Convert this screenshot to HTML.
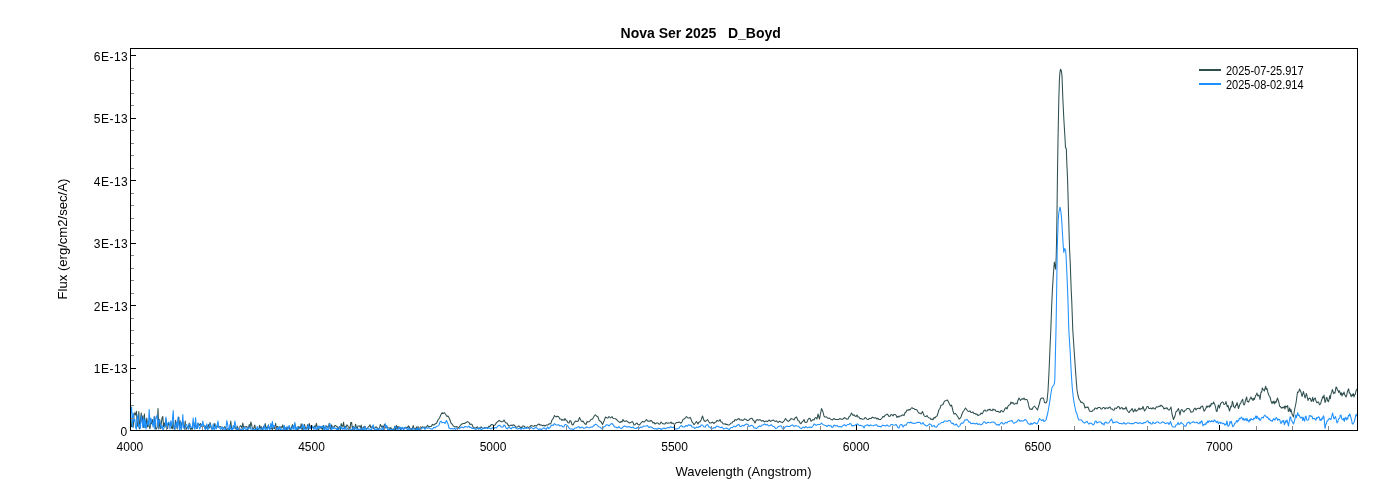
<!DOCTYPE html>
<html lang="en"><head><meta charset="utf-8"><title>Nova Ser 2025 D_Boyd</title>
<style>html,body{margin:0;padding:0;background:#fff;}body{width:1400px;height:500px;overflow:hidden;}svg{display:block;}</style>
</head><body>
<svg width="1400" height="500" viewBox="0 0 1400 500">
<rect x="0" y="0" width="1400" height="500" fill="#ffffff"/>
<defs><clipPath id="pc"><rect x="131" y="49" width="1226" height="381"/></clipPath></defs>
<g clip-path="url(#pc)" fill="none" stroke-linejoin="round" stroke-linecap="round">
<polyline stroke="#2f4f4f" stroke-width="1.05" points="130.0,414.3 130.8,418.0 131.6,426.8 132.4,426.4 133.2,427.1 134.0,414.9 134.8,412.9 135.6,415.0 136.4,411.2 137.2,424.7 138.0,426.5 138.8,411.5 139.6,429.0 140.4,421.6 141.2,412.9 142.0,421.8 142.8,415.8 143.6,427.5 144.4,413.9 145.2,427.2 146.0,425.5 146.8,418.0 147.6,426.9 148.4,420.5 149.2,426.9 150.0,428.8 150.8,421.3 151.6,423.8 152.4,419.5 153.2,423.8 154.0,422.9 154.8,416.5 155.6,428.9 156.4,429.0 157.2,426.9 158.0,408.5 158.8,428.9 159.6,419.2 160.4,428.7 161.2,424.1 162.0,418.1 162.8,416.5 163.6,426.8 164.4,422.9 165.2,427.0 166.0,418.8 166.8,427.6 167.6,428.7 168.4,422.6 169.2,424.7 170.0,424.5 170.8,424.5 171.6,427.9 172.4,428.8 173.2,421.0 174.0,428.7 174.8,429.5 175.6,420.3 176.4,423.9 177.2,428.9 178.0,420.6 178.8,417.0 179.6,428.2 180.4,420.9 181.2,429.1 182.0,422.5 182.8,421.1 183.6,425.7 184.4,429.2 185.2,421.0 186.0,429.5 186.8,428.3 187.6,426.8 188.4,427.8 189.2,423.0 190.0,428.1 190.8,429.6 191.6,428.0 192.4,429.2 193.2,422.1 194.0,422.8 194.8,428.2 195.6,424.7 196.4,426.8 197.2,428.5 198.0,423.3 198.8,425.7 199.6,424.6 200.4,423.5 201.2,425.9 202.0,426.6 202.8,426.6 203.6,424.7 204.4,426.7 205.2,428.6 206.0,425.7 206.8,428.6 207.6,426.7 208.4,424.6 209.2,428.3 210.0,422.5 210.8,425.4 211.6,429.1 212.4,428.7 213.2,428.6 214.0,427.3 214.8,423.4 215.6,426.8 216.4,428.1 217.2,426.0 218.0,426.9 218.8,427.1 219.6,426.8 220.4,426.5 221.2,427.4 222.0,428.4 222.8,429.4 223.6,428.5 224.4,426.8 225.2,426.8 226.0,429.2 226.8,429.8 227.6,428.7 228.4,428.7 229.2,429.5 230.0,428.9 230.8,421.0 231.6,429.2 232.4,428.8 233.2,428.7 234.0,426.4 234.8,426.3 235.6,428.6 236.4,429.5 237.2,426.1 238.0,429.8 238.8,429.1 239.6,426.8 240.4,425.8 241.2,426.3 242.0,428.4 242.8,423.0 243.6,427.3 244.4,427.2 245.2,426.8 246.0,426.9 246.8,426.5 247.6,429.7 248.4,428.6 249.2,424.5 250.0,428.1 250.8,422.0 251.6,424.7 252.4,428.4 253.2,429.6 254.0,427.5 254.8,425.0 255.6,429.6 256.4,429.2 257.2,429.7 258.0,429.4 258.8,429.1 259.6,425.2 260.4,429.1 261.2,426.6 262.0,429.7 262.8,429.0 263.6,426.3 264.4,427.5 265.2,423.5 266.0,428.6 266.8,427.1 267.6,428.2 268.4,424.8 269.2,428.0 270.0,428.6 270.8,428.3 271.6,428.2 272.4,430.0 273.2,425.7 274.0,428.3 274.8,428.7 275.6,423.4 276.4,429.3 277.2,426.5 278.0,426.5 278.8,429.9 279.6,427.8 280.4,427.1 281.2,426.7 282.0,427.6 282.8,424.9 283.6,428.7 284.4,428.6 285.2,429.5 286.0,428.0 286.8,429.7 287.6,427.1 288.4,427.1 289.2,426.7 290.0,430.0 290.8,428.5 291.6,427.5 292.4,424.6 293.2,428.5 294.0,426.3 294.8,423.8 295.6,427.9 296.4,428.1 297.2,429.3 298.0,430.0 298.8,426.3 299.6,428.0 300.4,428.2 301.2,423.7 302.0,430.0 302.8,427.7 303.6,430.0 304.4,424.4 305.2,427.4 306.0,428.7 306.8,428.1 307.6,424.7 308.4,430.0 309.2,423.5 310.0,425.9 310.8,428.5 311.6,425.8 312.4,427.8 313.2,427.8 314.0,426.8 314.8,425.8 315.6,427.2 316.4,423.3 317.2,426.7 318.0,430.0 318.8,429.6 319.6,426.3 320.4,427.1 321.2,428.9 322.0,427.0 322.8,430.0 323.6,425.6 324.4,429.3 325.2,427.6 326.0,425.9 326.8,425.9 327.6,427.3 328.4,427.0 329.2,423.3 330.0,428.6 330.8,429.3 331.6,424.9 332.4,427.4 333.2,427.0 334.0,427.4 334.8,425.5 335.6,425.6 336.4,426.3 337.2,426.6 338.0,430.0 338.8,427.5 339.6,426.6 340.4,429.6 341.2,423.6 342.0,426.2 342.8,426.3 343.6,422.2 344.4,429.0 345.2,426.3 346.0,427.8 346.8,424.9 347.6,425.5 348.4,426.8 349.2,427.2 350.0,428.8 350.8,422.5 351.6,422.4 352.4,428.9 353.2,426.4 354.0,430.0 354.8,427.8 355.6,424.2 356.4,427.6 357.2,428.5 358.0,425.9 358.8,426.0 359.6,426.0 360.4,427.4 361.2,425.1 362.0,430.0 362.8,428.3 363.6,427.1 364.4,426.4 365.2,428.3 366.0,428.3 366.8,429.2 367.6,428.0 368.4,426.8 369.2,426.1 370.0,424.8 370.8,427.5 371.6,427.7 372.4,426.1 373.2,428.1 374.0,429.0 374.8,428.3 375.6,427.1 376.4,426.9 377.2,427.8 378.0,429.2 378.8,429.2 379.6,427.4 380.4,424.4 381.2,425.9 382.0,427.4 382.8,425.9 383.6,428.1 384.4,424.3 385.2,427.8 386.0,427.9 386.8,426.7 387.6,427.7 388.4,427.9 389.2,427.8 390.0,428.6 390.8,427.6 391.6,428.9 392.4,430.0 393.2,428.9 394.0,430.0 394.8,426.4 395.6,430.0 396.4,425.4 397.2,428.5 398.0,426.4 398.8,428.4 399.6,426.9 400.4,430.0 401.2,428.4 402.0,427.5 402.8,428.3 403.6,429.6 404.4,428.2 405.2,427.5 406.0,428.3 406.8,427.2 407.6,427.4 408.4,425.9 409.2,426.7 410.0,428.5 410.8,428.8 411.6,430.0 412.4,428.2 413.2,425.6 414.0,428.4 414.8,428.4 415.6,430.0 416.4,426.9 417.2,430.0 418.0,426.4 418.8,430.0 419.6,430.0 420.0,427.5 421.2,427.9 422.5,426.7 423.8,427.4 425.0,427.0 426.2,427.5 427.5,425.3 428.8,427.0 430.0,426.5 431.2,426.5 432.5,424.4 433.8,425.1 435.0,424.0 436.5,423.2 438.0,420.0 439.5,418.0 441.0,414.5 442.0,412.8 443.0,413.5 444.5,412.7 446.0,415.0 447.0,416.5 448.0,416.0 449.0,417.6 450.0,420.0 451.0,423.1 452.0,424.0 453.5,426.1 455.0,427.0 456.5,426.6 458.0,427.5 459.0,427.4 460.0,426.0 461.5,424.2 463.0,423.5 464.5,423.5 466.0,422.5 467.5,421.6 469.0,422.5 470.0,424.4 471.0,424.0 472.0,424.4 473.0,427.0 474.5,427.9 476.0,428.0 477.3,426.9 478.7,428.8 480.0,427.5 481.2,426.9 482.5,428.3 483.8,428.6 485.0,427.5 486.2,427.8 487.5,428.1 488.8,426.3 490.0,426.5 491.0,424.8 492.0,424.5 493.5,425.4 495.0,425.0 496.5,422.6 498.0,421.5 499.0,420.4 500.0,421.0 501.5,421.7 503.0,421.5 504.0,420.0 505.0,421.8 506.0,423.0 507.0,423.0 508.0,425.0 509.3,426.2 510.7,425.1 512.0,425.5 513.5,424.7 515.0,426.0 516.2,427.3 517.5,426.9 518.8,425.9 520.0,427.0 521.2,428.1 522.5,425.9 523.8,425.9 525.0,427.0 526.2,427.6 527.5,426.9 528.8,427.7 530.0,426.5 531.2,425.5 532.5,426.1 533.8,426.3 535.0,425.5 536.2,426.1 537.5,424.9 538.8,424.0 540.0,425.0 541.2,424.8 542.5,425.9 543.8,425.2 545.0,426.0 546.5,424.9 548.0,425.0 549.0,423.7 550.0,424.0 551.0,423.1 552.0,420.0 553.2,418.6 554.5,415.5 556.0,417.0 557.2,416.3 558.5,416.5 559.8,419.0 561.0,419.0 562.0,420.4 563.0,419.5 564.0,420.5 565.0,418.5 566.0,420.2 567.0,421.0 568.0,422.8 569.0,423.0 570.0,420.5 571.0,421.3 572.0,424.5 573.0,424.9 574.0,423.0 575.5,421.1 577.0,421.5 578.2,421.0 579.5,417.5 581.0,420.5 582.0,421.7 583.0,421.0 584.5,423.5 586.0,424.5 587.0,421.6 588.0,422.0 589.5,421.5 591.0,419.5 592.5,419.0 594.0,416.5 595.2,414.7 596.5,416.0 598.0,417.0 599.0,420.1 600.0,421.0 601.2,422.0 602.5,424.5 604.0,421.0 605.5,417.0 606.7,417.7 607.8,418.1 609.0,416.5 610.5,418.0 612.0,416.5 613.0,418.2 614.0,418.5 615.5,418.7 617.0,420.0 618.5,421.6 620.0,422.5 621.0,421.6 622.0,422.0 623.0,419.5 624.0,421.1 625.0,421.5 626.5,420.8 628.0,422.0 629.5,423.0 631.0,422.5 632.0,421.5 633.0,422.4 634.0,425.0 635.0,424.8 636.0,423.5 637.0,423.1 638.0,424.5 639.5,424.9 641.0,423.0 642.5,421.4 644.0,422.0 645.2,421.1 646.5,419.5 647.8,421.2 649.0,421.0 650.0,421.2 651.0,420.5 652.0,421.2 653.0,423.0 654.0,422.4 655.0,424.0 656.5,423.0 658.0,423.0 659.0,424.2 660.0,424.0 661.0,422.0 662.5,423.5 664.0,424.0 665.0,423.9 666.0,422.5 667.5,423.3 669.0,423.0 670.0,423.1 671.0,422.0 672.0,423.6 673.0,423.0 674.0,424.3 675.0,424.0 676.5,422.4 678.0,422.5 679.0,422.1 680.0,422.5 681.0,423.2 682.0,422.0 683.0,419.4 684.0,419.0 685.2,418.1 686.5,416.5 687.8,418.0 689.0,418.0 690.0,417.4 691.0,419.0 692.0,421.9 693.0,423.0 694.0,424.7 695.0,423.5 696.5,421.5 698.0,424.0 699.0,422.0 700.0,422.0 701.2,419.7 702.5,416.0 704.0,420.5 705.0,421.4 706.0,421.0 707.5,419.5 709.0,422.0 710.0,423.1 711.0,423.0 712.5,422.1 714.0,423.5 715.0,422.3 716.0,422.0 717.0,420.4 718.0,421.0 719.0,421.0 720.0,419.5 721.0,421.9 722.0,422.0 723.0,423.8 724.0,424.0 725.0,423.7 726.0,424.5 727.0,424.2 728.0,425.0 729.5,424.8 731.0,423.0 732.0,423.0 733.0,421.5 734.0,421.5 735.0,419.5 736.5,420.2 738.0,419.0 739.0,418.6 740.0,420.0 741.5,419.7 743.0,420.5 744.5,418.9 746.0,419.5 747.5,420.7 749.0,420.0 750.0,418.8 751.0,418.5 752.0,418.2 753.0,420.0 754.0,420.8 755.0,423.0 756.0,420.7 757.0,419.5 758.5,420.2 760.0,419.5 761.5,421.1 763.0,420.5 764.5,421.9 766.0,421.0 767.5,421.6 769.0,420.0 770.5,421.4 772.0,420.5 773.5,420.0 775.0,421.5 776.5,420.9 778.0,422.5 779.5,421.3 781.0,422.0 782.5,422.6 784.0,421.0 785.5,418.5 787.0,420.5 788.5,421.4 790.0,420.0 791.0,418.5 792.0,419.0 793.0,419.0 794.0,420.0 795.2,417.7 796.5,417.0 798.0,420.5 799.0,421.0 800.0,423.0 801.0,423.7 802.0,422.0 803.0,421.3 804.0,419.5 805.0,422.2 806.0,422.5 807.0,422.1 808.0,419.5 809.0,418.3 810.0,418.5 811.0,421.2 812.0,420.5 813.0,419.6 814.0,420.0 815.0,418.0 816.0,417.5 817.0,419.0 818.0,414.0 819.5,419.0 821.5,408.5 823.0,412.0 824.0,416.2 825.0,417.0 826.5,416.9 828.0,418.5 829.5,418.0 831.0,419.5 832.5,419.9 834.0,418.5 835.5,419.6 837.0,419.5 838.5,419.6 840.0,418.5 841.5,419.4 843.0,419.0 844.5,417.6 846.0,418.5 847.0,419.3 848.0,419.0 849.0,416.8 850.0,416.0 851.5,413.0 853.0,415.5 854.0,414.7 855.0,416.0 856.0,416.6 857.0,415.0 858.0,417.1 859.0,417.0 860.0,418.8 861.0,418.5 862.5,419.3 864.0,419.0 865.0,417.6 866.0,418.0 867.0,419.3 868.0,419.5 869.5,418.5 871.0,418.5 872.5,417.1 874.0,418.0 875.5,417.7 877.0,419.0 878.0,418.3 879.0,419.5 880.5,419.6 882.0,418.0 883.0,416.4 884.0,417.0 885.0,415.3 886.0,415.0 887.0,414.0 888.0,414.9 889.0,416.5 890.0,416.3 891.0,414.5 892.0,414.7 893.0,416.0 894.0,414.4 895.0,414.5 896.0,415.1 897.0,417.5 898.0,416.3 899.0,417.0 900.0,415.9 901.0,416.0 902.5,414.8 904.0,415.5 905.0,412.7 906.0,412.0 907.0,410.0 908.0,410.2 909.0,409.5 910.0,410.0 911.0,408.5 912.0,407.5 913.0,408.6 914.0,408.5 915.0,409.6 916.0,409.5 917.0,409.9 918.0,412.0 919.0,413.3 920.0,413.0 921.0,414.0 922.5,411.5 924.0,415.5 925.0,416.5 926.0,416.5 927.0,415.6 928.0,417.0 929.0,418.0 930.0,418.0 931.0,419.5 932.0,419.0 933.0,419.8 934.0,417.5 935.0,417.9 936.0,416.5 937.0,416.1 938.0,413.0 939.0,409.6 940.0,408.5 941.0,405.2 942.0,405.0 943.0,404.5 944.0,402.0 945.0,400.8 946.0,400.5 947.5,400.0 949.0,403.0 950.5,406.0 951.5,405.0 953.0,411.0 954.0,414.0 955.5,413.5 957.0,415.5 958.0,417.0 959.0,419.1 960.0,418.5 961.0,417.0 962.0,414.0 963.0,411.8 964.0,410.5 965.5,408.0 967.0,410.0 968.0,411.3 969.0,411.5 970.0,410.9 971.0,412.5 972.0,412.6 973.0,412.0 974.0,413.6 975.0,413.5 976.0,414.4 977.0,414.0 978.0,415.6 979.0,415.0 980.0,414.7 981.0,413.0 982.0,413.9 983.0,412.5 984.0,410.5 985.0,410.0 986.0,411.1 987.0,411.0 988.0,409.6 989.0,410.0 990.0,409.1 991.0,410.5 992.0,410.6 993.0,409.0 994.0,410.1 995.0,409.5 996.0,411.2 997.0,411.5 998.0,411.2 999.0,412.0 1000.0,412.4 1001.0,410.5 1002.0,410.9 1003.0,412.0 1004.0,410.7 1005.0,408.5 1006.0,407.6 1007.0,409.0 1008.0,406.3 1009.0,405.0 1010.0,404.7 1011.0,402.0 1012.0,403.4 1013.0,402.5 1014.0,404.3 1015.0,404.0 1016.0,403.0 1017.0,404.0 1018.0,400.2 1019.0,398.0 1020.5,400.5 1022.0,398.5 1023.0,399.5 1024.0,398.0 1025.0,399.8 1026.0,399.5 1027.0,399.6 1028.0,402.0 1029.0,407.0 1030.0,409.2 1031.0,409.0 1032.0,409.5 1033.0,407.5 1034.5,406.0 1036.0,408.0 1037.5,410.0 1039.0,405.0 1040.5,399.0 1042.0,398.0 1043.5,398.0 1044.5,402.5 1046.0,403.0 1047.0,401.0 1048.0,391.0 1049.0,372.0 1050.0,348.0 1050.8,330.0 1051.7,305.0 1052.4,290.0 1053.2,277.0 1054.3,262.0 1055.6,269.2 1056.2,257.0 1056.5,244.0 1056.9,220.0 1057.4,180.0 1058.0,140.0 1058.8,100.0 1059.4,80.0 1059.9,73.0 1060.3,70.0 1060.6,69.2 1061.0,70.0 1061.5,72.0 1062.0,76.0 1062.9,100.0 1063.9,120.0 1065.1,140.0 1065.5,147.6 1066.3,148.6 1066.7,160.0 1067.6,180.0 1068.7,220.0 1069.6,250.0 1070.2,262.0 1071.2,290.0 1071.7,300.0 1072.8,330.0 1074.1,350.0 1075.2,366.0 1076.2,380.0 1077.0,390.0 1078.0,395.5 1079.0,399.0 1080.0,400.5 1081.0,402.4 1082.0,402.0 1083.0,403.3 1084.0,404.0 1085.0,408.0 1086.0,407.1 1087.0,407.5 1088.0,407.0 1089.5,411.0 1091.0,411.5 1092.0,411.5 1093.0,410.0 1094.0,410.0 1095.0,408.0 1096.0,408.2 1097.0,409.0 1098.0,407.6 1099.0,407.5 1100.0,407.5 1101.0,409.0 1102.0,409.0 1103.0,407.5 1104.0,407.5 1105.0,409.0 1106.0,407.8 1107.0,408.0 1108.0,408.4 1109.0,407.5 1110.0,407.1 1111.0,409.0 1112.0,408.9 1113.0,410.0 1114.0,410.2 1115.0,408.0 1116.5,408.4 1118.0,406.5 1119.0,406.8 1120.0,409.0 1121.0,407.9 1122.0,407.5 1123.0,409.3 1124.0,408.5 1125.0,408.9 1126.0,407.0 1127.0,410.0 1128.0,411.5 1129.0,412.7 1130.0,411.0 1131.0,410.2 1132.0,408.5 1133.5,412.0 1135.0,409.0 1136.0,411.4 1137.0,410.5 1138.0,409.8 1139.0,408.0 1140.0,409.6 1141.0,408.5 1142.0,409.0 1143.0,406.5 1144.5,411.0 1146.0,409.0 1147.0,406.6 1148.0,406.5 1149.0,408.4 1150.0,408.5 1151.0,408.1 1152.0,409.0 1153.0,407.6 1154.0,408.5 1155.0,409.1 1156.0,407.5 1157.0,406.7 1158.0,407.0 1159.0,406.0 1160.0,406.5 1161.0,405.1 1162.0,406.0 1163.0,406.9 1164.0,409.0 1165.0,408.1 1166.0,408.5 1167.0,407.8 1168.0,409.5 1169.0,410.1 1170.0,409.0 1171.0,407.0 1172.0,414.0 1173.5,419.5 1175.0,416.0 1176.0,411.7 1177.0,411.0 1178.5,408.5 1180.0,415.0 1181.0,410.1 1182.0,409.5 1183.0,411.1 1184.0,412.0 1185.0,410.3 1186.0,410.0 1187.0,408.5 1188.0,408.5 1189.0,408.6 1190.0,410.0 1191.0,412.3 1192.0,412.0 1193.0,411.8 1194.0,409.0 1195.0,408.0 1196.0,410.0 1197.0,408.5 1198.0,408.5 1199.0,408.0 1200.0,409.0 1200.7,406.9 1201.3,407.0 1202.0,406.0 1202.7,406.5 1203.3,408.6 1204.0,411.0 1204.7,410.9 1205.3,409.2 1206.0,408.0 1206.7,406.0 1207.3,407.2 1208.0,406.0 1208.7,406.3 1209.3,407.1 1210.0,405.0 1210.7,406.2 1211.3,403.3 1212.0,404.0 1213.0,403.5 1213.7,401.9 1214.3,403.8 1215.0,405.0 1215.7,408.0 1216.3,411.0 1217.0,411.5 1218.0,406.0 1218.7,405.0 1219.3,408.2 1220.0,406.0 1220.7,403.2 1221.3,403.1 1222.0,402.0 1222.7,402.1 1223.3,402.4 1224.0,404.5 1224.7,404.2 1225.3,403.9 1226.0,401.5 1226.7,404.5 1227.3,406.8 1228.0,405.5 1229.5,411.0 1231.0,406.0 1231.7,406.7 1232.3,401.2 1233.0,403.0 1233.7,406.6 1234.3,407.1 1235.0,408.0 1235.7,405.2 1236.3,405.4 1237.0,402.5 1238.5,408.5 1240.0,404.0 1240.7,403.4 1241.3,401.6 1242.0,400.5 1242.7,399.2 1243.3,403.7 1244.0,405.0 1244.7,404.1 1245.3,400.9 1246.0,399.0 1246.7,397.0 1247.3,401.6 1248.0,401.5 1248.7,402.1 1249.3,400.2 1250.0,399.0 1251.0,397.0 1251.7,399.0 1252.3,398.6 1253.0,400.5 1253.7,398.3 1254.3,399.5 1255.0,397.5 1255.7,395.4 1256.3,394.8 1257.0,393.0 1257.7,396.0 1258.3,395.5 1259.0,395.0 1260.0,399.5 1261.0,392.0 1261.7,392.2 1262.3,387.9 1263.0,389.5 1263.7,389.9 1264.3,391.0 1265.0,388.5 1265.7,386.2 1266.3,389.4 1267.0,388.5 1268.0,393.0 1269.0,395.5 1270.0,397.0 1271.0,401.0 1272.0,403.5 1272.7,401.7 1273.3,403.0 1274.0,401.0 1274.7,403.9 1275.3,401.7 1276.0,402.5 1277.5,398.0 1279.0,403.0 1279.7,406.3 1280.3,406.4 1281.0,407.5 1281.7,408.1 1282.3,407.3 1283.0,408.0 1283.7,407.1 1284.3,406.2 1285.0,409.0 1285.7,405.9 1286.3,406.5 1287.0,407.0 1287.7,405.6 1288.3,411.5 1289.0,410.5 1289.7,407.9 1290.3,411.9 1291.0,409.5 1292.0,414.0 1293.5,417.0 1294.5,410.0 1296.0,403.0 1297.5,392.0 1298.2,392.2 1298.8,391.8 1299.5,389.0 1301.0,392.0 1302.0,396.5 1303.5,391.5 1305.0,398.0 1306.5,393.5 1308.0,400.5 1308.7,398.6 1309.3,398.5 1310.0,398.0 1310.7,399.8 1311.3,401.4 1312.0,400.0 1312.7,397.3 1313.3,401.5 1314.0,399.5 1314.7,398.4 1315.3,398.0 1316.0,401.0 1316.7,402.6 1317.3,402.6 1318.0,402.0 1318.7,402.0 1319.3,404.7 1320.0,404.5 1320.7,403.7 1321.3,401.0 1322.0,399.0 1322.7,396.7 1323.3,397.9 1324.0,395.0 1325.0,402.5 1325.7,401.3 1326.3,397.7 1327.0,397.5 1327.7,400.8 1328.3,401.8 1329.0,400.0 1329.7,395.8 1330.3,398.6 1331.0,394.0 1331.7,392.4 1332.3,389.5 1333.0,391.5 1333.7,393.7 1334.3,392.7 1335.0,393.0 1336.0,387.0 1336.7,387.5 1337.3,389.9 1338.0,390.5 1338.7,392.4 1339.3,390.8 1340.0,392.5 1340.7,394.8 1341.3,392.7 1342.0,396.0 1342.7,393.6 1343.3,394.2 1344.0,392.0 1344.7,394.7 1345.3,395.6 1346.0,397.0 1346.7,395.1 1347.3,392.1 1348.0,390.0 1348.7,388.9 1349.3,393.1 1350.0,393.0 1350.7,395.4 1351.3,396.6 1352.0,394.5 1352.7,395.7 1353.3,393.5 1354.0,397.0 1354.7,394.6 1355.3,394.5 1356.0,391.0 1357.0,389.0"/>
<polyline stroke="#1e90ff" stroke-width="1.05" points="130.0,418.3 130.8,412.0 131.6,407.0 132.4,426.9 133.2,413.0 134.0,421.3 134.8,419.2 135.6,427.5 136.4,429.3 137.2,418.0 138.0,414.7 138.8,427.9 139.6,424.5 140.4,428.3 141.2,415.7 142.0,420.3 142.8,427.4 143.6,417.5 144.4,427.6 145.2,419.1 146.0,429.1 146.8,425.1 147.6,421.5 148.4,425.1 149.2,409.5 150.0,424.8 150.8,418.0 151.6,420.8 152.4,423.8 153.2,427.3 154.0,416.9 154.8,429.3 155.6,420.2 156.4,417.4 157.2,415.0 158.0,427.7 158.8,419.9 159.6,419.7 160.4,424.9 161.2,428.3 162.0,424.9 162.8,429.6 163.6,429.2 164.4,426.5 165.2,426.2 166.0,417.0 166.8,428.5 167.6,424.0 168.4,422.1 169.2,422.5 170.0,429.1 170.8,420.8 171.6,426.0 172.4,420.2 173.2,410.5 174.0,427.0 174.8,429.3 175.6,425.0 176.4,422.4 177.2,427.7 178.0,417.0 178.8,425.4 179.6,429.6 180.4,421.3 181.2,429.5 182.0,426.9 182.8,414.5 183.6,427.3 184.4,428.3 185.2,427.3 186.0,424.4 186.8,424.9 187.6,426.8 188.4,429.5 189.2,424.2 190.0,423.9 190.8,427.3 191.6,427.0 192.4,427.6 193.2,418.0 194.0,427.8 194.8,429.1 195.6,417.5 196.4,428.7 197.2,428.1 198.0,422.9 198.8,426.2 199.6,428.9 200.4,427.3 201.2,424.2 202.0,426.0 202.8,421.0 203.6,425.6 204.4,425.7 205.2,429.8 206.0,427.5 206.8,423.8 207.6,429.6 208.4,428.6 209.2,426.0 210.0,423.6 210.8,427.2 211.6,428.4 212.4,429.4 213.2,423.8 214.0,429.4 214.8,429.4 215.6,425.1 216.4,429.0 217.2,424.9 218.0,421.0 218.8,427.7 219.6,427.7 220.4,429.4 221.2,429.0 222.0,426.6 222.8,429.1 223.6,427.9 224.4,429.0 225.2,429.6 226.0,429.1 226.8,420.5 227.6,424.3 228.4,429.6 229.2,429.1 230.0,424.5 230.8,429.2 231.6,428.5 232.4,429.9 233.2,425.5 234.0,428.9 234.8,421.0 235.6,424.6 236.4,429.7 237.2,429.5 238.0,427.9 238.8,429.2 239.6,427.9 240.4,429.8 241.2,429.6 242.0,429.8 242.8,428.4 243.6,429.6 244.4,426.8 245.2,428.5 246.0,429.6 246.8,429.6 247.6,428.0 248.4,428.8 249.2,427.2 250.0,427.0 250.8,429.3 251.6,429.0 252.4,428.8 253.2,429.6 254.0,429.2 254.8,429.8 255.6,429.6 256.4,429.7 257.2,426.5 258.0,428.8 258.8,429.9 259.6,428.0 260.4,428.5 261.2,429.0 262.0,429.6 262.8,427.9 263.6,429.2 264.4,425.1 265.2,429.9 266.0,427.8 266.8,429.9 267.6,429.1 268.4,425.2 269.2,429.2 270.0,430.0 270.8,423.4 271.6,427.5 272.4,421.3 273.2,428.3 274.0,425.4 274.8,426.5 275.6,427.6 276.4,428.2 277.2,430.0 278.0,427.7 278.8,429.1 279.6,426.4 280.4,429.7 281.2,428.7 282.0,429.2 282.8,430.0 283.6,429.7 284.4,425.3 285.2,430.0 286.0,427.4 286.8,426.8 287.6,430.0 288.4,428.5 289.2,425.5 290.0,427.9 290.8,428.2 291.6,429.8 292.4,428.1 293.2,425.4 294.0,429.9 294.8,422.2 295.6,429.2 296.4,430.0 297.2,426.6 298.0,428.7 298.8,427.8 299.6,428.8 300.4,428.2 301.2,427.7 302.0,426.5 302.8,424.1 303.6,429.8 304.4,426.2 305.2,430.0 306.0,430.0 306.8,429.7 307.6,427.0 308.4,424.7 309.2,428.9 310.0,427.1 310.8,428.4 311.6,428.0 312.4,426.1 313.2,427.7 314.0,429.5 314.8,426.8 315.6,428.7 316.4,430.0 317.2,426.7 318.0,428.8 318.8,426.0 319.6,428.1 320.4,426.5 321.2,426.2 322.0,427.7 322.8,425.7 323.6,428.6 324.4,429.7 325.2,425.5 326.0,430.0 326.8,427.2 327.6,430.0 328.4,430.0 329.2,425.2 330.0,423.6 330.8,427.7 331.6,429.8 332.4,426.7 333.2,429.0 334.0,428.2 334.8,427.9 335.6,428.3 336.4,429.7 337.2,428.1 338.0,430.0 338.8,430.0 339.6,426.9 340.4,426.3 341.2,428.8 342.0,427.3 342.8,429.9 343.6,428.0 344.4,428.9 345.2,426.6 346.0,430.0 346.8,430.0 347.6,428.0 348.4,428.7 349.2,429.8 350.0,430.0 350.8,429.3 351.6,430.0 352.4,430.0 353.2,427.1 354.0,428.7 354.8,429.4 355.6,426.9 356.4,429.4 357.2,430.0 358.0,428.5 358.8,430.0 359.6,430.0 360.4,428.3 361.2,430.0 362.0,430.0 362.8,427.7 363.6,430.0 364.4,430.0 365.2,426.3 366.0,430.0 366.8,429.0 367.6,428.0 368.4,429.0 369.2,428.7 370.0,429.4 370.8,429.3 371.6,430.0 372.4,427.0 373.2,424.9 374.0,427.5 374.8,430.0 375.6,429.7 376.4,428.9 377.2,430.0 378.0,428.6 378.8,430.0 379.6,428.2 380.4,429.1 381.2,429.0 382.0,430.0 382.8,426.9 383.6,430.0 384.4,430.0 385.2,423.6 386.0,427.8 386.8,425.5 387.6,430.0 388.4,430.0 389.2,428.7 390.0,430.0 390.8,429.0 391.6,429.1 392.4,430.0 393.2,430.0 394.0,429.4 394.8,428.4 395.6,426.3 396.4,428.3 397.2,430.0 398.0,430.0 398.8,427.3 399.6,428.6 400.4,427.3 401.2,430.0 402.0,427.8 402.8,427.2 403.6,430.0 404.4,428.6 405.2,427.1 406.0,427.7 406.8,428.9 407.6,430.0 408.4,427.6 409.2,430.0 410.0,429.6 410.8,428.9 411.6,428.3 412.4,429.2 413.2,428.7 414.0,429.3 414.8,429.0 415.6,430.0 416.4,430.0 417.2,428.0 418.0,430.0 418.8,428.6 419.6,430.0 420.0,428.5 421.2,429.1 422.5,428.0 423.8,427.4 425.0,429.4 426.2,427.4 427.5,428.3 428.8,427.8 430.0,428.5 431.2,428.9 432.5,429.1 433.8,427.3 435.0,428.0 436.5,426.3 438.0,426.0 439.0,425.0 440.0,422.0 441.0,421.0 442.0,422.7 443.0,422.5 444.0,422.4 445.0,423.5 446.5,420.5 448.0,424.0 449.0,428.0 450.5,428.7 452.0,428.5 453.2,429.1 454.4,428.4 455.6,429.5 456.8,427.7 458.0,428.5 459.3,428.7 460.7,427.6 462.0,427.0 463.5,427.9 465.0,426.5 466.3,426.8 467.7,427.2 469.0,426.0 470.0,427.6 471.0,427.5 472.3,428.6 473.7,428.3 475.0,429.0 476.2,429.5 477.5,428.0 478.8,429.3 480.0,427.7 481.2,429.8 482.5,428.8 483.8,427.9 485.0,428.4 486.2,427.5 487.5,428.7 488.8,427.8 490.0,428.5 491.2,429.0 492.5,427.6 493.8,428.5 495.0,427.5 496.5,427.9 498.0,426.0 499.0,425.2 500.0,425.5 501.0,426.9 502.0,427.0 503.0,427.0 504.0,425.0 505.0,425.7 506.0,428.0 507.3,428.9 508.7,427.1 510.0,428.0 511.2,428.9 512.5,427.0 513.8,427.7 515.0,427.1 516.2,428.3 517.5,429.1 518.8,428.6 520.0,428.5 521.2,429.4 522.5,427.6 523.8,428.9 525.0,427.7 526.2,428.5 527.5,427.7 528.8,428.3 530.0,428.5 531.2,427.4 532.5,428.4 533.8,428.9 535.0,427.8 536.2,427.4 537.5,428.6 538.8,429.6 540.0,428.8 541.2,429.6 542.5,428.8 543.8,427.7 545.0,428.5 546.2,429.4 547.5,426.9 548.8,428.6 550.0,427.5 551.0,425.9 552.0,425.0 553.2,425.4 554.5,423.5 555.8,424.9 557.0,425.0 558.5,424.7 560.0,426.0 561.5,425.6 563.0,427.0 564.0,426.7 565.0,424.5 566.0,424.5 567.0,425.5 568.0,426.2 569.0,428.0 570.5,429.1 572.0,429.0 573.5,429.6 575.0,428.0 576.3,428.0 577.7,426.9 579.0,426.5 580.0,428.1 581.0,427.5 582.3,427.1 583.7,428.4 585.0,428.0 586.5,426.9 588.0,427.5 589.5,427.8 591.0,427.0 592.5,426.9 594.0,425.5 595.5,424.1 597.0,425.0 598.5,426.7 600.0,427.0 601.2,428.4 602.5,429.0 603.8,426.8 605.0,426.5 606.5,424.7 608.0,425.0 609.2,426.0 610.5,424.2 611.8,423.5 613.0,424.5 614.5,426.9 616.0,427.0 617.0,427.9 618.0,427.5 619.0,426.6 620.0,428.0 621.5,428.6 623.0,427.0 624.5,425.9 626.0,426.5 627.3,427.2 628.7,426.5 630.0,427.0 631.5,427.7 633.0,427.0 634.5,428.3 636.0,428.5 637.5,427.5 639.0,428.5 640.5,427.1 642.0,427.5 643.3,426.0 644.7,426.3 646.0,426.0 647.5,425.6 649.0,427.5 650.5,426.8 652.0,427.5 653.5,428.6 655.0,429.0 656.0,428.5 657.0,429.5 658.5,428.2 660.0,428.5 661.3,429.5 662.7,428.6 664.0,428.0 665.3,428.7 666.7,427.9 668.0,427.5 669.3,427.9 670.7,426.6 672.0,427.5 673.5,427.2 675.0,429.0 676.5,429.1 678.0,428.5 679.0,428.3 680.0,426.5 681.5,425.6 683.0,427.0 684.5,426.9 686.0,425.5 687.3,426.2 688.7,424.7 690.0,425.5 691.0,425.1 692.0,427.0 693.5,427.2 695.0,428.5 696.5,427.0 698.0,427.5 699.0,426.6 700.0,427.0 701.2,425.0 702.5,425.0 704.0,427.0 705.2,427.1 706.3,425.1 707.5,424.5 709.0,427.0 710.0,427.1 711.0,428.5 712.5,428.7 714.0,427.5 715.3,427.9 716.7,426.0 718.0,426.5 719.3,427.1 720.7,427.7 722.0,427.0 723.5,428.9 725.0,428.5 726.5,428.0 728.0,429.0 729.5,429.4 731.0,427.5 732.5,427.6 734.0,426.0 735.5,426.9 737.0,425.5 738.0,424.7 739.0,424.5 740.0,426.6 741.0,426.5 742.5,425.3 744.0,426.0 745.3,424.4 746.7,423.9 748.0,424.5 749.0,426.4 750.0,426.0 751.5,425.3 753.0,426.0 754.0,428.0 755.0,428.0 756.5,428.6 758.0,427.0 759.5,426.0 761.0,426.5 762.0,425.0 763.0,425.0 764.5,423.9 766.0,425.0 767.3,424.6 768.7,426.0 770.0,425.5 771.3,424.7 772.7,426.2 774.0,426.5 775.5,428.4 777.0,428.0 778.5,426.4 780.0,426.0 781.0,425.8 782.0,427.5 783.0,429.0 784.0,428.7 785.0,427.0 786.5,426.1 788.0,426.5 789.5,426.6 791.0,425.5 792.5,424.9 794.0,426.5 795.5,425.6 797.0,426.0 798.5,426.2 800.0,428.0 801.5,428.6 803.0,427.0 804.5,427.9 806.0,426.5 807.3,427.8 808.7,427.3 810.0,427.0 811.5,427.6 813.0,426.0 814.0,424.0 815.0,424.2 816.0,425.5 817.5,424.6 819.0,424.5 820.2,424.5 821.5,423.0 822.8,424.4 824.0,425.0 825.5,425.4 827.0,426.5 828.5,425.1 830.0,426.0 831.0,425.7 832.0,427.5 833.0,427.1 834.0,425.0 835.5,426.0 837.0,425.5 838.5,426.8 840.0,426.5 841.5,427.1 843.0,425.5 844.5,424.6 846.0,426.0 847.5,424.5 849.0,424.5 850.0,423.4 851.0,424.0 852.0,425.9 853.0,425.5 854.5,425.7 856.0,424.5 857.5,423.9 859.0,425.5 860.5,425.3 862.0,426.0 863.0,426.1 864.0,428.0 865.0,425.8 866.0,425.5 867.5,424.6 869.0,426.0 870.5,424.9 872.0,425.5 873.5,425.8 875.0,425.0 876.5,424.7 878.0,426.5 879.5,426.3 881.0,427.0 882.5,425.2 884.0,425.5 885.5,426.0 887.0,425.0 888.5,426.2 890.0,426.0 891.0,424.6 892.0,424.5 893.5,425.3 895.0,425.0 896.0,424.4 897.0,426.0 898.0,427.7 899.0,428.0 900.0,425.1 901.0,424.5 902.0,424.8 903.0,427.0 904.0,425.6 905.0,425.0 906.0,425.2 907.0,423.5 908.0,422.4 909.0,422.5 910.0,422.9 911.0,422.0 912.0,423.3 913.0,423.0 914.5,423.5 916.0,423.0 917.5,422.3 919.0,422.5 920.0,422.3 921.0,424.0 922.0,423.7 923.0,422.5 924.0,424.6 925.0,425.0 926.5,426.1 928.0,425.5 929.5,423.9 931.0,424.5 932.0,426.4 933.0,426.0 934.0,425.4 935.0,427.0 936.5,427.1 938.0,425.0 939.0,423.9 940.0,424.0 941.5,422.5 943.0,422.5 944.5,421.1 946.0,421.0 947.5,421.4 949.0,420.5 950.0,420.5 951.0,422.5 952.0,423.7 953.0,423.0 954.0,424.8 955.0,425.0 956.5,424.0 957.5,426.0 958.5,427.0 960.0,425.5 961.0,423.4 962.0,423.0 963.0,423.2 964.0,421.5 965.0,419.9 966.0,420.0 967.0,419.4 968.0,420.5 969.0,422.2 970.0,422.0 971.0,423.7 972.0,423.5 973.5,423.2 975.0,424.0 976.5,423.1 978.0,424.5 979.5,423.8 981.0,425.0 982.0,424.4 983.0,423.0 984.0,421.7 985.0,422.0 986.0,423.4 987.0,423.0 988.0,422.2 989.0,422.5 990.5,422.7 992.0,422.0 993.5,422.0 995.0,423.0 996.5,424.9 998.0,424.5 999.0,425.4 1000.0,424.0 1001.0,422.8 1002.0,422.5 1003.0,423.9 1004.0,424.0 1005.5,422.4 1007.0,423.0 1008.0,421.5 1009.0,421.5 1010.0,420.9 1011.0,421.0 1012.0,420.6 1013.0,422.5 1014.0,423.5 1015.0,422.5 1016.5,422.1 1018.0,420.0 1019.0,419.8 1020.0,421.5 1021.0,420.5 1022.0,421.0 1023.5,420.9 1025.0,419.5 1026.0,420.0 1027.0,421.5 1028.0,423.4 1029.0,424.0 1030.0,424.6 1031.0,423.0 1032.0,424.4 1033.0,423.5 1034.5,422.5 1036.0,423.5 1037.0,423.9 1038.0,422.0 1039.5,418.5 1041.0,420.0 1042.0,420.7 1043.0,419.5 1044.0,421.5 1045.0,421.0 1046.0,420.0 1047.0,416.0 1048.0,412.0 1049.0,406.0 1050.0,400.0 1051.0,393.0 1052.0,387.5 1053.0,386.0 1053.8,385.0 1054.5,383.0 1054.8,380.0 1055.4,355.0 1056.0,330.0 1056.6,295.0 1057.2,250.0 1058.2,220.0 1058.9,212.0 1059.6,209.0 1060.0,207.2 1060.4,208.5 1060.9,212.0 1061.7,220.0 1062.5,234.0 1063.3,247.0 1063.8,252.5 1064.6,248.5 1065.6,250.0 1066.0,255.0 1066.5,265.0 1067.6,290.0 1068.1,305.0 1068.8,330.0 1070.2,352.0 1071.2,372.0 1072.2,387.0 1073.2,397.0 1074.5,405.0 1076.0,412.0 1077.0,414.1 1078.0,418.0 1079.0,420.0 1080.0,420.0 1081.5,420.0 1083.0,422.0 1084.5,423.1 1086.0,422.0 1087.0,421.4 1088.0,423.0 1089.0,424.1 1090.0,423.0 1091.5,423.2 1093.0,425.0 1094.0,424.4 1095.0,421.5 1096.0,421.1 1097.0,423.0 1098.5,422.1 1100.0,422.0 1101.0,422.0 1102.0,424.0 1103.0,423.5 1104.0,425.0 1105.0,422.3 1106.0,422.0 1107.0,423.2 1108.0,423.0 1109.0,422.8 1110.0,421.0 1111.5,419.0 1113.0,423.0 1114.0,422.3 1115.0,422.5 1116.5,421.6 1118.0,422.5 1119.5,423.6 1121.0,423.5 1122.5,423.9 1124.0,422.5 1125.0,423.9 1126.0,424.0 1127.5,422.9 1129.0,423.0 1130.5,423.8 1132.0,423.5 1133.5,423.7 1135.0,422.5 1136.5,422.5 1138.0,423.5 1139.5,422.7 1141.0,423.0 1142.5,423.8 1144.0,422.5 1145.5,422.7 1147.0,421.0 1148.0,420.9 1149.0,423.0 1150.0,422.4 1151.0,424.0 1152.0,424.1 1153.0,422.0 1154.0,423.3 1155.0,423.5 1156.5,422.1 1158.0,422.0 1159.5,423.2 1161.0,423.0 1162.5,421.8 1164.0,422.5 1165.5,423.7 1167.0,423.0 1168.0,422.7 1169.0,424.5 1170.5,421.5 1172.0,426.0 1173.0,427.0 1174.0,427.0 1175.0,427.1 1176.0,425.0 1177.0,424.7 1178.0,422.5 1179.0,424.4 1180.0,424.0 1181.0,422.4 1182.0,423.5 1183.0,424.0 1184.0,425.5 1185.0,426.3 1186.0,426.0 1187.0,423.2 1188.0,422.5 1189.0,422.1 1190.0,424.0 1191.0,422.7 1192.0,422.5 1193.0,421.7 1194.0,422.0 1195.0,422.8 1196.0,422.5 1197.0,422.1 1198.0,423.5 1199.0,423.7 1200.0,422.0 1200.7,423.1 1201.3,420.9 1202.0,421.0 1203.0,426.0 1203.7,424.6 1204.3,424.5 1205.0,424.0 1205.7,424.6 1206.3,422.5 1207.0,423.0 1207.7,421.0 1208.3,422.4 1209.0,421.0 1209.7,420.8 1210.3,421.8 1211.0,421.5 1211.7,420.7 1212.3,421.6 1213.0,421.0 1213.7,421.8 1214.3,419.9 1215.0,420.5 1215.7,421.5 1216.3,422.6 1217.0,421.5 1217.7,421.2 1218.3,423.8 1219.0,423.0 1220.0,422.0 1220.7,423.4 1221.3,422.6 1222.0,423.0 1222.7,423.7 1223.3,423.3 1224.0,423.5 1224.7,425.1 1225.3,424.2 1226.0,425.0 1227.0,421.0 1228.0,426.5 1228.7,425.7 1229.3,425.1 1230.0,421.5 1230.7,423.0 1231.3,421.3 1232.0,424.0 1232.7,426.7 1233.3,426.3 1234.0,425.5 1234.7,423.3 1235.3,423.1 1236.0,422.0 1236.7,420.5 1237.3,422.1 1238.0,420.5 1238.7,420.7 1239.3,418.2 1240.0,419.0 1241.5,417.0 1243.0,420.0 1243.7,418.3 1244.3,420.3 1245.0,419.5 1245.7,418.7 1246.3,420.7 1247.0,418.5 1247.7,420.8 1248.3,420.4 1249.0,422.0 1249.7,419.6 1250.3,420.6 1251.0,418.5 1251.7,419.5 1252.3,419.6 1253.0,420.0 1253.7,418.2 1254.3,418.8 1255.0,418.0 1255.7,416.0 1256.3,418.5 1257.0,416.0 1257.7,417.3 1258.3,419.2 1259.0,418.0 1260.0,420.5 1260.7,419.9 1261.3,418.1 1262.0,417.5 1262.7,417.6 1263.3,418.0 1264.0,416.0 1265.0,415.0 1265.7,416.4 1266.3,416.7 1267.0,417.5 1267.7,417.0 1268.3,418.6 1269.0,419.5 1269.7,418.8 1270.3,420.6 1271.0,420.5 1271.7,421.1 1272.3,421.3 1273.0,419.5 1273.7,418.5 1274.3,419.7 1275.0,420.0 1275.7,418.1 1276.3,417.5 1277.0,418.5 1277.7,420.4 1278.3,419.1 1279.0,419.5 1279.7,419.5 1280.3,421.7 1281.0,423.5 1281.7,422.0 1282.3,420.7 1283.0,422.0 1283.7,420.4 1284.3,424.7 1285.0,423.5 1285.7,420.8 1286.3,422.0 1287.0,420.0 1288.5,426.0 1290.0,417.0 1290.7,417.1 1291.3,420.8 1292.0,421.0 1293.5,424.0 1295.0,419.0 1295.7,415.1 1296.3,417.6 1297.0,415.5 1297.7,412.5 1298.3,415.5 1299.0,415.0 1300.5,418.0 1302.0,417.0 1302.7,420.4 1303.3,417.4 1304.0,420.0 1304.7,421.1 1305.3,416.7 1306.0,416.0 1306.7,419.6 1307.3,420.2 1308.0,420.0 1308.7,419.7 1309.3,415.7 1310.0,415.5 1310.7,416.1 1311.3,416.6 1312.0,416.0 1312.7,419.0 1313.3,418.6 1314.0,418.5 1314.7,418.2 1315.3,419.9 1316.0,420.0 1316.7,417.5 1317.3,418.1 1318.0,417.5 1318.7,416.7 1319.3,417.6 1320.0,420.5 1320.7,419.2 1321.3,420.3 1322.0,418.0 1322.7,418.9 1323.3,415.8 1324.0,417.0 1325.0,428.5 1325.7,424.8 1326.3,423.6 1327.0,421.0 1327.7,421.0 1328.3,419.5 1329.0,419.0 1329.7,418.3 1330.3,419.5 1331.0,419.5 1332.5,413.0 1334.0,419.0 1335.5,416.5 1337.0,423.0 1337.7,422.1 1338.3,419.5 1339.0,418.5 1339.7,418.2 1340.3,415.2 1341.0,415.0 1341.7,418.6 1342.3,419.3 1343.0,420.0 1343.7,418.2 1344.3,421.4 1345.0,418.0 1345.7,417.3 1346.3,419.8 1347.0,418.0 1347.7,419.1 1348.3,415.5 1349.0,416.0 1349.7,413.9 1350.3,415.3 1351.0,418.0 1351.7,420.7 1352.3,424.0 1353.0,424.0 1353.7,422.8 1354.3,421.7 1355.0,419.0 1355.7,415.0 1356.3,415.9 1357.0,414.0"/>
</g>
<g shape-rendering="crispEdges" stroke-width="1">
<line x1="131" y1="430.5" x2="136" y2="430.5" stroke="#000"/>
<line x1="131" y1="418.5" x2="134" y2="418.5" stroke="#8a8a8a"/>
<line x1="131" y1="405.5" x2="134" y2="405.5" stroke="#8a8a8a"/>
<line x1="131" y1="393.5" x2="134" y2="393.5" stroke="#8a8a8a"/>
<line x1="131" y1="380.5" x2="134" y2="380.5" stroke="#8a8a8a"/>
<line x1="131" y1="368.5" x2="136" y2="368.5" stroke="#000"/>
<line x1="131" y1="355.5" x2="134" y2="355.5" stroke="#8a8a8a"/>
<line x1="131" y1="343.5" x2="134" y2="343.5" stroke="#8a8a8a"/>
<line x1="131" y1="330.5" x2="134" y2="330.5" stroke="#8a8a8a"/>
<line x1="131" y1="318.5" x2="134" y2="318.5" stroke="#8a8a8a"/>
<line x1="131" y1="305.5" x2="136" y2="305.5" stroke="#000"/>
<line x1="131" y1="293.5" x2="134" y2="293.5" stroke="#8a8a8a"/>
<line x1="131" y1="280.5" x2="134" y2="280.5" stroke="#8a8a8a"/>
<line x1="131" y1="268.5" x2="134" y2="268.5" stroke="#8a8a8a"/>
<line x1="131" y1="255.5" x2="134" y2="255.5" stroke="#8a8a8a"/>
<line x1="131" y1="243.5" x2="136" y2="243.5" stroke="#000"/>
<line x1="131" y1="230.5" x2="134" y2="230.5" stroke="#8a8a8a"/>
<line x1="131" y1="218.5" x2="134" y2="218.5" stroke="#8a8a8a"/>
<line x1="131" y1="205.5" x2="134" y2="205.5" stroke="#8a8a8a"/>
<line x1="131" y1="193.5" x2="134" y2="193.5" stroke="#8a8a8a"/>
<line x1="131" y1="180.5" x2="136" y2="180.5" stroke="#000"/>
<line x1="131" y1="168.5" x2="134" y2="168.5" stroke="#8a8a8a"/>
<line x1="131" y1="155.5" x2="134" y2="155.5" stroke="#8a8a8a"/>
<line x1="131" y1="143.5" x2="134" y2="143.5" stroke="#8a8a8a"/>
<line x1="131" y1="130.5" x2="134" y2="130.5" stroke="#8a8a8a"/>
<line x1="131" y1="118.5" x2="136" y2="118.5" stroke="#000"/>
<line x1="131" y1="105.5" x2="134" y2="105.5" stroke="#8a8a8a"/>
<line x1="131" y1="93.5" x2="134" y2="93.5" stroke="#8a8a8a"/>
<line x1="131" y1="80.5" x2="134" y2="80.5" stroke="#8a8a8a"/>
<line x1="131" y1="68.5" x2="134" y2="68.5" stroke="#8a8a8a"/>
<line x1="131" y1="55.5" x2="136" y2="55.5" stroke="#000"/>
<line x1="130.5" y1="430" x2="130.5" y2="425" stroke="#000"/>
<line x1="166.5" y1="430" x2="166.5" y2="426" stroke="#8a8a8a"/>
<line x1="202.5" y1="430" x2="202.5" y2="426" stroke="#8a8a8a"/>
<line x1="239.5" y1="430" x2="239.5" y2="426" stroke="#8a8a8a"/>
<line x1="275.5" y1="430" x2="275.5" y2="426" stroke="#8a8a8a"/>
<line x1="311.5" y1="430" x2="311.5" y2="425" stroke="#000"/>
<line x1="348.5" y1="430" x2="348.5" y2="426" stroke="#8a8a8a"/>
<line x1="384.5" y1="430" x2="384.5" y2="426" stroke="#8a8a8a"/>
<line x1="420.5" y1="430" x2="420.5" y2="426" stroke="#8a8a8a"/>
<line x1="457.5" y1="430" x2="457.5" y2="426" stroke="#8a8a8a"/>
<line x1="493.5" y1="430" x2="493.5" y2="425" stroke="#000"/>
<line x1="529.5" y1="430" x2="529.5" y2="426" stroke="#8a8a8a"/>
<line x1="566.5" y1="430" x2="566.5" y2="426" stroke="#8a8a8a"/>
<line x1="602.5" y1="430" x2="602.5" y2="426" stroke="#8a8a8a"/>
<line x1="638.5" y1="430" x2="638.5" y2="426" stroke="#8a8a8a"/>
<line x1="674.5" y1="430" x2="674.5" y2="425" stroke="#000"/>
<line x1="711.5" y1="430" x2="711.5" y2="426" stroke="#8a8a8a"/>
<line x1="747.5" y1="430" x2="747.5" y2="426" stroke="#8a8a8a"/>
<line x1="783.5" y1="430" x2="783.5" y2="426" stroke="#8a8a8a"/>
<line x1="820.5" y1="430" x2="820.5" y2="426" stroke="#8a8a8a"/>
<line x1="856.5" y1="430" x2="856.5" y2="425" stroke="#000"/>
<line x1="892.5" y1="430" x2="892.5" y2="426" stroke="#8a8a8a"/>
<line x1="929.5" y1="430" x2="929.5" y2="426" stroke="#8a8a8a"/>
<line x1="965.5" y1="430" x2="965.5" y2="426" stroke="#8a8a8a"/>
<line x1="1001.5" y1="430" x2="1001.5" y2="426" stroke="#8a8a8a"/>
<line x1="1038.5" y1="430" x2="1038.5" y2="425" stroke="#000"/>
<line x1="1074.5" y1="430" x2="1074.5" y2="426" stroke="#8a8a8a"/>
<line x1="1110.5" y1="430" x2="1110.5" y2="426" stroke="#8a8a8a"/>
<line x1="1147.5" y1="430" x2="1147.5" y2="426" stroke="#8a8a8a"/>
<line x1="1183.5" y1="430" x2="1183.5" y2="426" stroke="#8a8a8a"/>
<line x1="1219.5" y1="430" x2="1219.5" y2="425" stroke="#000"/>
<line x1="1256.5" y1="430" x2="1256.5" y2="426" stroke="#8a8a8a"/>
<line x1="1292.5" y1="430" x2="1292.5" y2="426" stroke="#8a8a8a"/>
<line x1="1328.5" y1="430" x2="1328.5" y2="426" stroke="#8a8a8a"/>
</g>
<rect x="130.5" y="48.5" width="1227" height="382" fill="none" stroke="#000" stroke-width="1" shape-rendering="crispEdges"/>
<g shape-rendering="crispEdges">
<rect x="1199" y="69" width="22" height="2" fill="#2f4f4f"/>
<rect x="1199" y="83" width="22" height="2" fill="#1e90ff"/>
</g>
<g font-family="Liberation Sans, Arial, sans-serif" fill="#000">
<text x="1226" y="75" font-size="12" textLength="77.6" lengthAdjust="spacingAndGlyphs">2025-07-25.917</text>
<text x="1226" y="89" font-size="12" textLength="77.6" lengthAdjust="spacingAndGlyphs">2025-08-02.914</text>
<text x="700.7" y="38" font-size="14" font-weight="bold" text-anchor="middle" xml:space="preserve" style="white-space:pre">Nova Ser 2025   D_Boyd</text>
<text x="743.5" y="475.7" font-size="13" text-anchor="middle">Wavelength (Angstrom)</text>
<text transform="translate(66.5,239.1) rotate(-90)" font-size="13.1" text-anchor="middle">Flux (erg/cm2/sec/A)</text>
<text x="127.8" y="436.2" font-size="12" letter-spacing="0.5" text-anchor="end">0</text>
<text x="128.3" y="373.2" font-size="12" letter-spacing="0.5" text-anchor="end">1E-13</text>
<text x="128.3" y="311.2" font-size="12" letter-spacing="0.5" text-anchor="end">2E-13</text>
<text x="128.3" y="248.2" font-size="12" letter-spacing="0.5" text-anchor="end">3E-13</text>
<text x="128.3" y="186.2" font-size="12" letter-spacing="0.5" text-anchor="end">4E-13</text>
<text x="128.3" y="123.2" font-size="12" letter-spacing="0.5" text-anchor="end">5E-13</text>
<text x="128.3" y="61.2" font-size="12" letter-spacing="0.5" text-anchor="end">6E-13</text>
<text x="129.9" y="451" font-size="12" text-anchor="middle">4000</text>
<text x="311.5" y="451" font-size="12" text-anchor="middle">4500</text>
<text x="493.0" y="451" font-size="12" text-anchor="middle">5000</text>
<text x="674.6" y="451" font-size="12" text-anchor="middle">5500</text>
<text x="856.2" y="451" font-size="12" text-anchor="middle">6000</text>
<text x="1037.8" y="451" font-size="12" text-anchor="middle">6500</text>
<text x="1219.3" y="451" font-size="12" text-anchor="middle">7000</text>
</g>
</svg>
</body></html>
